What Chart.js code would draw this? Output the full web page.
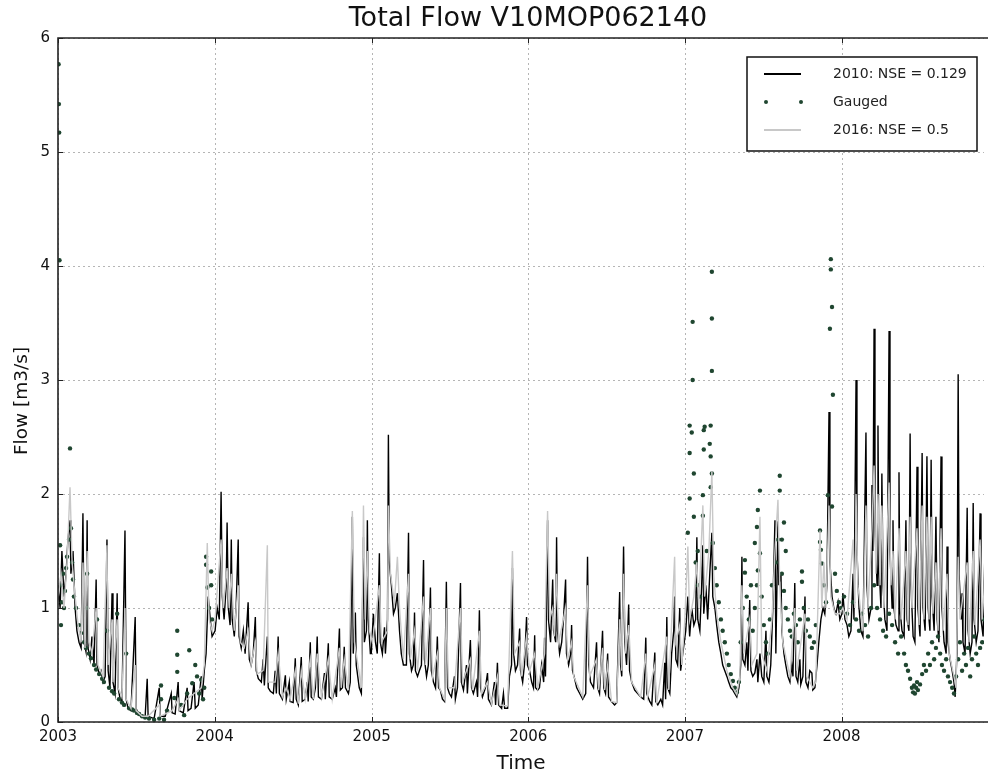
<!DOCTYPE html>
<html>
<head>
<meta charset="utf-8">
<script src="https://cdn.jsdelivr.net/npm/chart.js@4.4.1/dist/chart.umd.min.js"></script>
<style>
  html, body { margin: 0; padding: 0; background: #fff; }
  canvas { display: block; }
</style>
</head>
<body>
<canvas id="chartFlow" width="988" height="778"></canvas>
<script>
// x values are weeks since 1 Jan 2003
var yearLabels = ['2003', '2004', '2005', '2006', '2007', '2008'];
var yearWeeks = [0, 52.14, 104.43, 156.57, 208.71, 260.86];
var lastWeek = 308.3;

// 2010 model run
var weeks2010 = [
  0.0,0.7,1.3,2.0,2.7,3.3,4.0,4.3,5.0,5.7,6.3,7.0,7.7,8.3,8.7,9.3,9.7,10.0,10.7,11.3,12.0,12.7,13.0,13.7,14.3,15.0,15.7,16.3,16.7,17.3,18.0,18.3,19.0,19.7,20.0,20.7,21.3,22.3,22.7,23.3,24.3,25.7,26.0,26.7,27.7,29.0,29.7,30.0,32.0,33.7,34.0,35.7,37.7,38.0,39.0,40.0,40.3,41.7,43.0,43.3,44.3,45.3,45.7,46.7,47.7,48.0,48.7,49.3,50.0,50.7,51.3,
  52.3,53.0,53.7,54.3,54.7,55.3,56.0,56.3,56.7,57.3,57.7,58.0,58.7,59.3,60.0,60.3,61.0,61.7,62.3,63.3,63.7,64.3,65.0,65.7,66.0,66.7,67.7,68.3,68.7,69.7,70.0,70.7,71.7,72.3,72.7,73.3,73.7,74.7,75.7,76.0,77.0,77.3,78.3,79.0,79.3,80.0,81.0,81.3,82.3,83.0,83.3,84.0,84.3,85.0,85.7,86.3,86.7,87.7,88.7,89.0,90.0,90.3,91.3,92.3,92.7,93.7,94.0,94.7,95.3,95.7,96.7,97.3,98.0,98.3,99.0,99.3,100.3,101.0,101.7,102.0,102.7,103.0,103.3,104.0,
  104.3,105.0,105.7,106.3,107.0,107.3,108.0,108.7,109.0,109.7,110.0,110.3,111.0,111.7,112.3,113.0,113.7,114.3,115.0,116.0,116.7,117.0,117.7,118.3,118.7,119.0,119.7,120.3,121.0,121.7,122.0,122.7,123.3,124.0,124.3,125.0,125.7,126.3,126.7,127.3,128.0,128.7,129.3,129.7,130.3,131.0,132.0,132.3,133.0,134.0,134.3,135.0,136.0,136.3,137.3,137.7,138.3,139.3,139.7,140.3,140.7,141.3,142.3,143.0,143.3,144.3,145.3,145.7,146.3,146.7,147.7,148.3,148.7,149.7,150.3,151.0,151.3,151.7,152.3,153.0,153.7,154.0,154.7,155.3,156.0,
  156.3,157.0,157.7,158.3,158.7,159.0,159.7,160.3,161.0,161.7,162.0,162.3,163.0,163.3,164.0,164.7,165.0,165.7,166.0,166.3,167.0,167.7,168.3,169.0,169.3,170.0,170.7,171.0,171.3,172.0,172.7,173.7,174.7,175.7,176.3,176.7,177.3,178.3,179.3,179.7,180.3,181.3,181.7,182.3,183.0,183.3,184.3,185.3,186.0,187.0,187.3,187.7,188.3,188.7,189.3,190.0,190.3,191.0,192.0,193.0,194.0,195.0,195.7,196.0,197.0,197.7,198.7,199.0,199.7,200.7,201.3,202.0,202.3,202.7,203.0,203.7,204.3,205.0,205.3,205.7,206.3,207.0,207.3,208.0,
  209.0,209.7,210.3,211.0,211.7,212.3,212.7,213.0,213.7,214.3,214.7,215.0,215.7,216.3,217.0,217.7,218.0,218.7,219.3,220.0,220.7,221.3,222.0,222.7,223.3,224.0,224.7,225.3,226.0,226.7,227.3,227.7,228.0,228.7,229.3,229.7,230.3,230.7,231.3,232.0,232.7,233.0,233.7,234.3,235.0,235.7,236.0,236.7,237.3,238.0,238.7,239.0,239.7,240.0,240.7,241.0,241.7,242.3,243.0,243.7,244.3,244.7,245.3,245.7,246.3,247.0,247.3,248.0,248.7,249.0,249.7,250.3,251.0,251.3,252.0,252.7,253.3,254.0,254.7,255.3,256.0,256.7,257.0,257.7,258.3,259.0,259.7,260.3,
  261.0,261.3,262.0,262.7,263.3,264.0,264.7,265.0,265.7,266.0,266.7,267.3,268.0,269.0,269.3,270.0,270.7,271.0,271.3,271.7,272.0,272.7,273.0,273.3,274.0,274.3,274.7,275.3,276.0,276.7,277.0,277.7,278.0,278.3,279.0,279.7,280.0,280.3,281.0,281.7,282.3,282.7,283.3,283.7,284.0,284.7,285.3,286.0,286.3,287.0,287.7,288.0,288.7,289.3,289.7,290.3,290.7,291.0,291.7,292.3,292.7,293.3,294.0,294.3,295.0,295.7,296.0,296.3,297.0,297.7,298.3,298.7,299.3,299.7,300.0,300.7,301.0,301.3,302.0,302.7,303.0,303.7,304.3,304.7,305.0,305.7,306.3,307.0,307.3,308.0,308.7,309.0,309.7
];
var flow2010 = [
  1.2,1.0,1.5,1.1,1.3,1.6,1.77,1.3,1.5,1.0,0.8,0.7,0.65,1.83,0.7,0.62,1.77,0.65,0.55,0.75,0.5,1.25,0.5,0.42,0.45,0.35,0.4,1.6,0.45,0.3,1.13,0.35,0.25,1.13,0.3,0.2,0.18,1.68,0.2,0.12,0.1,0.92,0.12,0.07,0.05,0.04,0.38,0.05,0.03,0.3,0.05,0.05,0.25,0.08,0.07,0.35,0.1,0.08,0.3,0.1,0.12,0.35,0.12,0.15,0.4,0.2,0.45,0.6,1.1,0.9,0.75,
  0.8,1.0,0.9,2.02,1.1,0.9,1.2,1.75,1.0,0.85,1.6,0.9,0.75,1.0,1.6,0.75,0.65,0.8,0.6,1.05,0.55,0.5,0.6,0.92,0.45,0.38,0.35,0.55,0.32,0.75,0.3,0.27,0.25,0.45,0.25,0.75,0.25,0.2,0.41,0.2,0.35,0.18,0.17,0.56,0.2,0.15,0.57,0.18,0.2,0.35,0.18,0.7,0.22,0.2,0.3,0.75,0.22,0.2,0.43,0.2,0.69,0.22,0.2,0.3,0.22,0.82,0.28,0.3,0.66,0.3,0.25,0.35,1.8,0.6,0.96,0.5,0.3,0.25,1.62,0.7,0.8,1.77,0.9,0.6,
  0.6,0.95,0.7,0.6,1.48,0.7,0.6,0.83,0.6,0.9,2.52,1.4,1.2,0.95,1.0,1.13,0.8,0.6,0.5,0.5,1.66,0.6,0.45,0.5,0.96,0.45,0.4,0.45,0.5,1.42,0.55,0.4,0.5,1.18,0.45,0.35,0.3,0.75,0.3,0.28,0.2,0.18,1.23,0.3,0.25,0.22,0.4,0.2,0.3,1.22,0.35,0.28,0.5,0.25,0.72,0.3,0.25,0.35,0.22,0.98,0.3,0.22,0.3,0.43,0.2,0.15,0.35,0.15,0.52,0.15,0.12,0.25,0.12,0.12,0.4,0.5,1.35,0.6,0.45,0.5,0.82,0.45,0.35,0.5,0.92,
  0.5,0.45,0.35,0.3,0.76,0.3,0.28,0.3,0.5,0.35,0.74,0.4,1.77,0.9,0.7,1.25,0.8,0.7,1.62,0.8,0.6,0.7,0.9,1.25,0.6,0.5,0.6,0.85,0.45,0.38,0.3,0.25,0.2,0.25,1.45,0.5,0.35,0.3,0.7,0.3,0.25,0.8,0.3,0.25,0.6,0.22,0.18,0.15,0.17,1.14,0.5,0.4,1.54,0.7,0.5,1.03,0.45,0.35,0.28,0.25,0.22,0.2,0.74,0.25,0.18,0.15,0.61,0.18,0.15,0.2,0.15,0.52,0.2,0.92,0.3,0.25,0.6,0.8,1.1,0.55,0.5,1.0,0.45,0.6,
  0.8,1.1,0.75,1.0,0.85,0.9,1.62,0.9,0.8,1.2,1.55,0.95,1.2,0.9,1.3,1.66,1.1,1.0,0.85,0.7,0.6,0.5,0.45,0.4,0.35,0.3,0.28,0.25,0.22,0.3,0.5,1.45,0.55,0.5,0.7,0.45,1.07,0.45,0.4,0.43,0.55,0.35,0.6,0.4,0.35,0.8,0.4,0.35,0.5,1.0,1.77,0.6,1.76,1.2,1.3,0.8,0.6,0.5,0.4,0.35,0.5,0.4,1.22,0.4,0.35,0.55,0.33,0.4,1.1,0.35,0.3,0.45,0.43,0.28,0.3,0.5,0.7,0.9,1.0,0.95,1.2,2.72,1.4,1.1,1.0,0.95,1.05,0.9,
  0.95,1.13,0.9,0.85,0.75,0.8,1.3,0.9,3.0,1.5,1.0,0.8,0.75,2.54,1.2,0.9,1.0,2.08,1.5,3.45,1.7,1.2,2.6,1.4,1.0,2.18,1.2,0.9,0.8,3.43,1.5,1.0,1.77,1.0,0.85,0.8,2.19,1.0,0.8,0.75,1.77,0.9,0.8,2.53,1.2,0.75,0.7,2.24,1.0,0.75,2.36,1.0,0.8,2.33,1.0,0.8,2.3,1.1,0.8,1.8,0.9,0.7,2.33,1.0,0.7,0.6,1.54,0.7,0.55,0.45,0.35,0.22,0.6,3.05,1.3,0.9,1.13,0.7,0.6,1.88,0.8,0.6,0.7,1.92,0.9,0.7,0.8,1.83,0.9,0.75,1.6,0.9,0.85
];

// 2016 model run
var weeks2016 = [
  0.0,1.0,2.0,3.0,4.0,4.7,5.7,6.7,7.7,8.3,9.0,9.7,10.3,11.3,12.7,13.3,15.0,16.3,16.7,18.0,18.3,19.7,20.0,21.3,22.3,22.7,24.3,25.7,26.0,28.0,30.0,33.7,34.0,38.0,40.0,40.3,43.0,45.3,47.7,48.7,49.7,50.3,51.3,
  52.3,54.3,55.0,56.3,57.0,57.7,58.7,60.0,60.7,62.0,63.3,64.3,65.7,66.3,68.3,69.7,70.0,72.3,73.3,74.7,76.0,77.3,79.0,80.0,81.0,82.3,84.0,85.0,86.3,87.7,90.0,91.3,93.7,94.3,95.3,96.7,98.0,98.7,99.3,101.0,101.7,102.3,103.0,103.7,
  104.7,107.0,107.7,109.7,110.0,110.7,112.0,113.0,113.7,115.0,116.7,117.3,118.7,119.7,121.7,122.3,124.0,124.7,126.3,127.0,128.7,129.3,130.0,132.0,134.0,134.7,137.3,138.0,140.3,141.0,143.0,144.3,146.3,147.0,149.7,151.3,152.0,153.7,154.3,156.0,
  157.0,158.7,159.7,162.0,163.0,163.7,164.7,165.3,166.0,166.7,169.0,169.7,171.0,171.7,174.7,176.3,177.0,179.3,180.0,181.3,182.0,183.0,184.3,186.0,187.0,187.7,188.3,189.0,190.0,191.0,194.0,195.7,196.3,198.7,199.3,202.7,203.3,205.3,205.7,207.0,207.7,
  208.7,209.7,210.3,211.7,212.7,213.3,214.7,215.3,216.7,217.7,218.3,219.3,220.7,222.7,224.7,226.0,227.0,227.7,228.3,230.3,231.0,232.7,233.7,234.3,236.0,237.7,238.7,239.7,240.3,241.3,243.7,245.3,246.0,248.7,249.3,251.3,252.3,253.7,254.3,255.0,255.7,256.7,257.3,258.7,260.3,
  261.3,262.7,264.7,265.3,265.7,266.3,268.0,269.0,269.7,271.0,271.7,272.3,273.0,273.7,274.3,275.0,276.7,277.3,278.0,278.7,280.0,280.7,282.3,283.0,283.7,284.3,286.0,286.7,287.7,288.3,289.3,290.0,290.7,291.3,292.3,293.0,294.0,294.7,296.0,296.7,298.3,299.0,299.7,300.3,302.7,303.3,304.7,305.3,307.0,307.7,308.7,309.7
];
var flow2016 = [
  1.1,1.3,1.0,1.4,2.06,1.4,1.1,0.85,0.7,1.4,0.65,1.5,0.7,0.6,1.0,0.5,0.4,1.55,0.5,0.9,0.35,0.9,0.3,0.22,1.0,0.2,0.12,0.5,0.1,0.05,0.05,0.15,0.05,0.1,0.2,0.1,0.2,0.25,0.3,0.5,1.57,0.9,0.8,
  0.9,1.6,1.0,1.35,1.0,1.3,0.8,1.2,0.7,0.65,0.8,0.5,0.7,0.42,0.45,1.55,0.35,0.35,0.6,0.22,0.3,0.2,0.45,0.16,0.45,0.2,0.55,0.2,0.6,0.22,0.55,0.2,0.65,0.3,0.55,0.28,1.85,0.7,0.6,0.3,1.9,0.9,1.5,0.8,
  0.7,1.2,0.7,0.8,1.9,1.3,1.05,1.45,1.0,0.55,1.3,0.55,0.8,0.45,1.1,0.5,1.0,0.4,0.6,0.3,0.2,1.0,0.3,0.3,1.0,0.35,0.55,0.28,0.8,0.25,0.35,0.16,0.4,0.15,0.14,1.5,0.6,0.7,0.4,0.75,
  0.45,0.6,0.3,0.6,1.85,0.9,1.0,0.75,1.3,0.7,1.0,0.55,0.7,0.4,0.22,1.2,0.4,0.55,0.28,0.65,0.28,0.5,0.18,0.17,0.9,0.45,1.3,0.6,0.85,0.35,0.22,0.6,0.22,0.5,0.16,0.75,0.28,1.45,0.7,0.85,0.5,
  0.9,1.54,0.9,1.1,1.4,1.0,1.9,1.1,1.5,2.2,1.3,0.95,0.7,0.45,0.3,0.24,0.4,1.2,0.6,0.9,0.5,0.6,1.8,0.6,0.45,0.9,1.5,1.95,1.2,0.7,0.4,1.0,0.45,0.95,0.4,0.3,0.35,1.68,1.0,1.4,1.0,1.9,1.1,0.95,0.95,
  1.0,0.9,1.6,1.0,2.0,1.2,0.8,1.9,1.0,1.7,2.25,1.3,2.0,1.2,1.9,1.0,2.1,1.2,1.5,0.9,1.7,0.9,1.5,0.85,1.8,1.0,1.7,0.85,1.9,0.9,1.8,0.9,1.8,0.95,1.4,0.8,1.7,0.8,1.3,0.6,0.4,0.3,1.45,0.9,1.4,0.7,1.5,0.85,1.6,0.9,1.3,0.9
];

// gauged flow
var gaugedWeeks = [
  0.2,0.3,0.4,0.5,0.7,1.0,1.0,1.3,1.7,2.0,
  2.3,2.7,3.0,3.7,4.0,4.3,4.7,5.0,5.3,6.0,
  7.0,7.7,8.7,9.3,9.7,9.7,10.3,11.0,12.0,12.7,
  13.0,13.7,14.7,15.3,16.3,17.0,18.0,18.7,19.7,20.3,
  21.3,22.0,22.7,23.7,24.7,25.3,26.3,27.0,28.0,29.0,
  30.3,32.0,33.7,35.3,
  34.3,34.3,36.3,38.7,39.7,39.7,39.7,41.0,42.0,43.0,
  43.7,44.7,45.7,46.3,47.0,47.7,48.3,48.7,49.3,49.3,
  49.7,50.3,51.0,51.0,51.3,
  209.7,210.3,210.3,210.3,211.0,211.3,211.3,211.7,211.7,212.3,
  213.0,213.0,213.7,214.7,214.7,215.0,215.0,215.3,216.0,217.0,
  217.3,217.3,217.3,217.7,217.7,217.7,217.7,218.0,218.7,219.3,
  220.0,220.7,221.3,222.0,222.7,223.3,224.0,224.7,225.3,226.0,
  226.7,227.3,228.0,228.7,228.7,229.3,230.0,230.7,231.3,232.0,
  232.0,232.7,232.7,233.0,233.0,233.7,233.7,234.3,235.0,235.7,
  236.3,237.0,237.7,239.0,239.7,240.3,240.3,241.0,241.0,241.7,
  241.7,242.3,242.3,243.0,243.7,244.3,245.0,245.7,246.3,247.0,
  247.7,247.7,248.3,249.0,249.7,250.3,251.0,251.7,252.3,253.7,
  253.7,254.0,254.3,255.0,255.7,256.3,257.0,257.3,257.3,257.7,
  257.7,258.0,258.7,259.3,260.0,260.7,
  261.7,262.7,263.7,264.7,265.7,266.7,267.7,268.7,269.7,270.7,
  271.7,272.7,273.7,274.7,275.7,276.7,277.7,278.7,279.7,280.7,
  281.7,282.3,283.0,283.7,284.3,284.7,285.0,285.3,285.7,286.0,
  286.3,287.0,287.7,288.3,289.0,289.7,290.3,291.0,291.7,292.3,
  293.0,293.7,294.3,295.0,295.7,296.3,297.0,297.7,298.3,299.0,
  299.7,300.3,301.0,301.7,302.3,303.0,303.7,304.3,305.0,305.7,
  306.3,307.0,307.7,308.3,309.0,309.7
];
var gaugedFlow = [
  5.77,5.42,5.17,4.05,1.55,1.2,0.85,1.05,1.3,1.0,
  1.15,1.35,1.45,1.6,2.4,1.7,1.4,1.25,1.1,1.0,
  0.85,0.78,0.7,0.65,1.3,1.0,0.6,0.56,0.5,0.46,
  0.9,0.42,0.38,0.35,0.8,0.3,0.27,0.25,0.95,0.2,
  0.17,0.15,0.6,0.12,0.11,0.1,0.08,0.07,0.05,0.04,
  0.03,0.02,0.03,0.02,
  0.32,0.2,0.1,0.21,0.8,0.59,0.44,0.15,0.06,0.25,
  0.63,0.34,0.5,0.4,0.25,0.37,0.2,0.3,1.45,1.38,
  1.18,1.0,1.32,1.2,0.9,
  1.66,2.6,2.36,1.96,2.54,3.51,3.0,2.18,1.8,1.4,
  1.2,1.5,1.1,1.99,1.81,2.56,2.39,2.59,1.5,2.44,
  2.6,2.33,2.06,3.95,3.54,3.08,2.18,1.57,1.35,1.2,
  1.05,0.9,0.8,0.7,0.6,0.5,0.42,0.36,0.3,0.26,
  0.35,0.7,1.0,1.42,1.31,1.1,0.9,1.2,0.8,1.57,
  1.0,1.71,1.2,1.86,1.33,2.03,1.48,1.1,0.85,0.7,
  0.6,0.9,1.2,1.4,1.6,2.16,2.03,1.6,1.3,1.75,
  1.15,1.5,1.0,0.9,0.8,0.75,0.95,0.85,0.7,0.9,
  1.32,1.23,1.0,0.8,0.9,0.75,0.65,0.7,0.85,1.68,
  1.58,1.51,1.39,1.2,1.05,1.99,3.45,4.06,3.97,3.64,
  1.89,2.87,1.3,1.15,1.05,1.0,
  1.1,0.95,0.85,1.05,0.9,0.8,0.95,0.85,0.75,1.0,
  1.2,1.0,0.9,0.8,0.75,0.95,0.85,0.7,0.6,0.75,
  0.6,0.5,0.45,0.38,0.3,0.26,0.32,0.25,0.3,0.35,
  0.28,0.33,0.42,0.5,0.45,0.6,0.5,0.7,0.55,0.65,
  0.75,0.6,0.5,0.45,0.55,0.4,0.35,0.3,0.25,0.4,
  0.55,0.7,0.45,0.6,0.5,0.65,0.4,0.55,0.75,0.6,
  0.5,0.65,0.7,0.9,1.0,0.8
];

var fontFamily = '"DejaVu Sans", sans-serif';
var gaugedColor = '#1f4630';
var chartTitle = 'Total Flow V10MOP062140';
var yTitle = 'Flow [m3/s]';

function toPoints(xs, ys) {
  var pts = [];
  var n = Math.min(xs.length, ys.length);
  for (var i = 0; i < n; i++) pts.push({ x: xs[i], y: ys[i] });
  return pts;
}

// dotted grid, box with inner ticks, titles, matplotlib-like legend
var mplFrame = {
  id: 'mplFrame',
  beforeDatasetsDraw: function (chart) {
    var ctx = chart.ctx;
    var a = chart.chartArea;
    var sx = chart.scales.x;
    var sy = chart.scales.y;
    ctx.save();
    ctx.strokeStyle = '#b5b5b5';
    ctx.lineWidth = 1;
    ctx.setLineDash([2, 3]);
    sx.ticks.forEach(function (t) {
      var px = Math.round(sx.getPixelForValue(t.value)) + 0.5;
      ctx.beginPath(); ctx.moveTo(px, a.top); ctx.lineTo(px, a.bottom); ctx.stroke();
    });
    sy.ticks.forEach(function (t) {
      var py = Math.round(sy.getPixelForValue(t.value)) + 0.5;
      ctx.beginPath(); ctx.moveTo(a.left, py); ctx.lineTo(a.right, py); ctx.stroke();
    });
    ctx.restore();
  },
  afterDatasetsDraw: function (chart) {
    var ctx = chart.ctx;
    var a = chart.chartArea;
    var sx = chart.scales.x;
    var sy = chart.scales.y;
    ctx.save();
    ctx.strokeStyle = '#222';
    ctx.lineWidth = 1;
    sx.ticks.forEach(function (t) {
      var px = Math.round(sx.getPixelForValue(t.value)) + 0.5;
      ctx.beginPath(); ctx.moveTo(px, a.bottom); ctx.lineTo(px, a.bottom - 5); ctx.stroke();
      ctx.beginPath(); ctx.moveTo(px, a.top); ctx.lineTo(px, a.top + 5); ctx.stroke();
    });
    sy.ticks.forEach(function (t) {
      var py = Math.round(sy.getPixelForValue(t.value)) + 0.5;
      ctx.beginPath(); ctx.moveTo(a.left, py); ctx.lineTo(a.left + 5, py); ctx.stroke();
    });
    ctx.lineWidth = 1.6;
    ctx.beginPath();
    ctx.moveTo(chart.width, a.top);
    ctx.lineTo(a.left, a.top);
    ctx.lineTo(a.left, a.bottom);
    ctx.lineTo(chart.width, a.bottom);
    ctx.stroke();

    // the original axes run a little past the right edge, so the title sits right of centre
    ctx.fillStyle = '#111';
    ctx.textAlign = 'center';
    ctx.textBaseline = 'middle';
    ctx.font = '27px ' + fontFamily;
    ctx.fillText(chartTitle, (a.left + a.right) / 2 + 7, a.top - 19);

    // y axis title sits a bit below the middle in the original
    ctx.translate(22, (a.top + a.bottom) / 2 + 21);
    ctx.rotate(-Math.PI / 2);
    ctx.font = '18.5px ' + fontFamily;
    ctx.fillText(yTitle, 0, 0);
    ctx.restore();
    drawLegend(chart);
  }
};

function drawLegend(chart) {
  var ctx = chart.ctx;
  var a = chart.chartArea;
  var ds = chart.data.datasets;
  var bx = a.right - 237, by = a.top + 19, bw = 230, bh = 94;
  ctx.save();
  ctx.fillStyle = '#fff';
  ctx.fillRect(bx, by, bw, bh);
  ctx.strokeStyle = '#111';
  ctx.lineWidth = 1.5;
  ctx.strokeRect(bx, by, bw, bh);
  ctx.font = '14px ' + fontFamily;
  ctx.textBaseline = 'middle';
  for (var i = 0; i < ds.length; i++) {
    var ry = by + 17 + i * 28;
    if (ds[i].showLine === false) {
      ctx.fillStyle = ds[i].pointBackgroundColor;
      [bx + 19, bx + 54].forEach(function (cx) {
        ctx.beginPath(); ctx.arc(cx, ry, 2, 0, Math.PI * 2); ctx.fill();
      });
    } else {
      ctx.strokeStyle = ds[i].borderColor;
      ctx.lineWidth = 2;
      ctx.beginPath(); ctx.moveTo(bx + 17, ry); ctx.lineTo(bx + 54, ry); ctx.stroke();
    }
    ctx.fillStyle = '#222';
    ctx.fillText(ds[i].label, bx + 86, ry);
  }
  ctx.restore();
}

var chartFlow = new Chart(document.getElementById('chartFlow'), {
  type: 'line',
  data: {
    datasets: [{
      label: '2010: NSE = 0.129',
      data: toPoints(weeks2010, flow2010),
      borderColor: '#000000',
      borderWidth: 1.4,
      pointRadius: 0,
      tension: 0,
      order: 2
    }, {
      label: 'Gauged',
      data: toPoints(gaugedWeeks, gaugedFlow),
      showLine: false,
      pointRadius: 2.2,
      pointBackgroundColor: gaugedColor,
      pointBorderWidth: 0,
      order: 1
    }, {
      label: '2016: NSE = 0.5',
      data: toPoints(weeks2016, flow2016),
      borderColor: '#c8c8c8',
      borderWidth: 1.4,
      pointRadius: 0,
      tension: 0,
      order: 0
    }]
  },
  options: {
    responsive: false,
    animation: false,
    layout: { padding: { top: 38, left: 0, right: 0, bottom: 0 } },
    plugins: {
      legend: { display: false },
      tooltip: { enabled: false },
      title: { display: false }
    },
    scales: {
      x: {
        type: 'linear',
        min: 0,
        max: lastWeek,
        afterBuildTicks: function (scale) {
          scale.ticks = yearWeeks.map(function (w) { return { value: w }; });
        },
        afterFit: function (scale) { scale.height = 56; },
        ticks: {
          autoSkip: false,
          maxRotation: 0,
          padding: 6,
          color: '#111',
          font: { family: fontFamily, size: 15 },
          callback: function (v, i) { return yearLabels[i]; }
        },
        grid: { display: false, drawTicks: false },
        border: { display: false },
        title: {
          display: true,
          text: 'Time',
          color: '#111',
          font: { family: fontFamily, size: 20 },
          padding: { top: 0, bottom: 2 }
        }
      },
      y: {
        min: 0,
        max: 6,
        afterFit: function (scale) { scale.width = 58; },
        ticks: {
          stepSize: 1,
          padding: 8,
          color: '#111',
          font: { family: fontFamily, size: 15 }
        },
        grid: { display: false, drawTicks: false },
        border: { display: false },
        title: { display: false }
      }
    }
  },
  plugins: [mplFrame]
});
</script>
</body>
</html>
